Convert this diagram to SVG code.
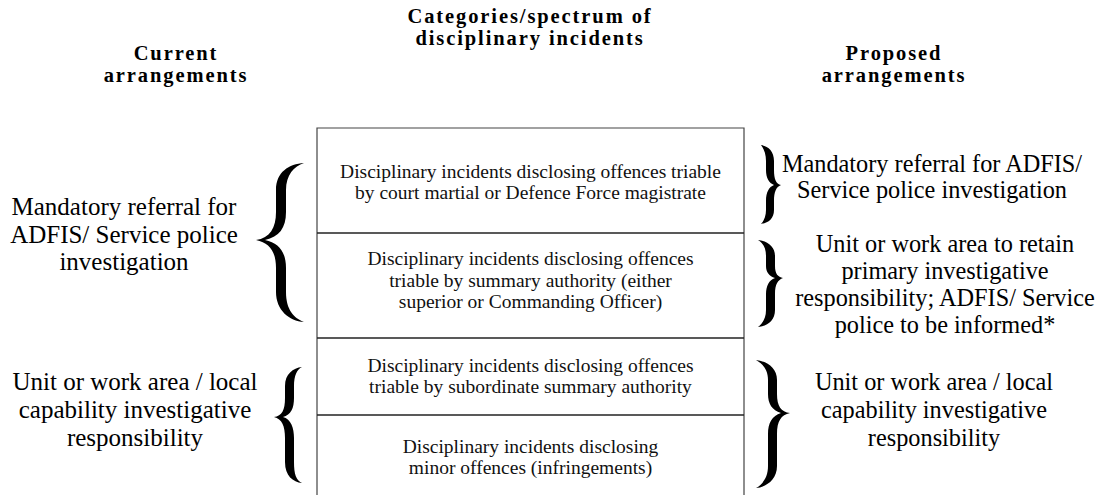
<svg xmlns="http://www.w3.org/2000/svg" width="1107" height="495" viewBox="0 0 1107 495">
<style>
.h{font-family:"Liberation Serif","Times New Roman",serif;font-weight:bold;font-size:20.5px;letter-spacing:1.9px;fill:#000;text-anchor:middle}
.r{font-family:"Liberation Serif","Times New Roman",serif;font-size:19.5px;fill:#111;text-anchor:middle}
.s{font-family:"Liberation Serif","Times New Roman",serif;font-size:25px;fill:#000;text-anchor:middle}
.p{font-family:"Liberation Serif","Times New Roman",serif;font-size:24.3px;fill:#000;text-anchor:middle}
.box{fill:none;stroke:#444;stroke-width:1.2}
.div{stroke:#222;stroke-width:1.6}
.br{fill:#000;stroke:none}
</style>
<rect width="1107" height="495" fill="#fff"/>
<g id="headings">
<text class="h" x="530" y="23">Categories/spectrum of</text>
<text class="h" x="530" y="45">disciplinary incidents</text>
<text class="h" x="176" y="60">Current</text>
<text class="h" x="176" y="82">arrangements</text>
<text class="h" x="894" y="60">Proposed</text>
<text class="h" x="894" y="82">arrangements</text>
</g>
<g id="spectrum">
<path class="box" d="M317,497 V128 H744 V497"/>
<line class="div" x1="317" y1="233" x2="744" y2="233"/>
<line class="div" x1="317" y1="338" x2="744" y2="338"/>
<line class="div" x1="317" y1="415" x2="744" y2="415"/>
</g>
<g id="row1">
<text class="r" x="530.5" y="178">Disciplinary incidents disclosing offences triable</text>
<text class="r" x="530.5" y="199">by court martial or Defence Force magistrate</text>
</g>
<g id="row2">
<text class="r" x="530.5" y="265">Disciplinary incidents disclosing offences</text>
<text class="r" x="530.5" y="287">triable by summary authority (either</text>
<text class="r" x="530.5" y="308">superior or Commanding Officer)</text>
</g>
<g id="row3">
<text class="r" x="530.5" y="372">Disciplinary incidents disclosing offences</text>
<text class="r" x="530.5" y="393">triable by subordinate summary authority</text>
</g>
<g id="row4">
<text class="r" x="530.5" y="453">Disciplinary incidents disclosing</text>
<text class="r" x="530.5" y="474">minor offences (infringements)</text>
</g>
<g id="current-mandatory">
<text class="s" x="124" y="215">Mandatory referral for</text>
<text class="s" x="124" y="243">ADFIS/ Service police</text>
<text class="s" x="124" y="270">investigation</text>
</g>
<g id="current-local">
<text class="s" x="135" y="390">Unit or work area / local</text>
<text class="s" x="135" y="418">capability investigative</text>
<text class="s" x="135" y="446">responsibility</text>
</g>
<g id="proposed-mandatory">
<text class="p" x="932" y="172">Mandatory referral for ADFIS/</text>
<text class="p" x="932" y="198">Service police investigation</text>
</g>
<g id="proposed-unit">
<text class="p" x="945" y="252">Unit or work area to retain</text>
<text class="p" x="945" y="279">primary investigative</text>
<text class="p" x="945" y="306">responsibility; ADFIS/ Service</text>
<text class="p" x="945" y="333">police to be informed*</text>
</g>
<g id="proposed-local">
<text class="p" x="934" y="390">Unit or work area / local</text>
<text class="p" x="934" y="418">capability investigative</text>
<text class="p" x="934" y="446">responsibility</text>
</g>
<g id="connectors">
<path class="br" d="M304,163 C289,164 276,172 276,190 L276,212 C276,228 270,238 256,240 C270,243 276,252 276,268 L276,292 C276,310 289,321 304,322 C294,318 286,310 286,292 L286,268 C286,252 279,243 265,240 C279,237 286,228 286,212 L286,190 C286,175 294,166 304,163 Z"/>
<path class="br" d="M302,367 C293,368 285,374 285,386 L285,398 C285,410 282,416 274,417 C282,419 285,426 285,438 L285,462 C285,476 293,482 302,483 C296,480 294,474 294,462 L294,438 C294,428 291,419 283,417 C291,415 294,408 294,398 L294,386 C294,376 297,369 302,367 Z"/>
<path class="br" d="M761,145 C768,146 774,151 774,161 L774,170 C774,179 776,184 781,185 C776,187 774,192 774,201 L774,210 C774,219 768,223 761,224 C764,221 766,216 766,210 L766,201 C766,192 769,187 774,185 C769,183 766,178 766,170 L766,161 C766,154 764,149 761,145 Z"/>
<path class="br" d="M758,240 C767,241 775,246 775,256 L775,266 C775,274 778,277 783,278 C778,280 775,284 775,294 L775,310 C775,321 767,326 758,327 C763,323 766,318 766,310 L766,294 C766,286 769,280 775,278 C769,276 766,272 766,266 L766,256 C766,248 763,243 758,240 Z"/>
<path class="br" d="M756,360 C766,361 777,367 777,380 L777,394 C777,406 781,412 790,413 C781,415 777,421 777,434 L777,466 C777,480 766,487 756,488 C763,484 768,477 768,466 L768,434 C768,423 772,416 781,413 C772,410 768,404 768,394 L768,380 C768,370 763,364 756,360 Z"/>
</g>
</svg>
